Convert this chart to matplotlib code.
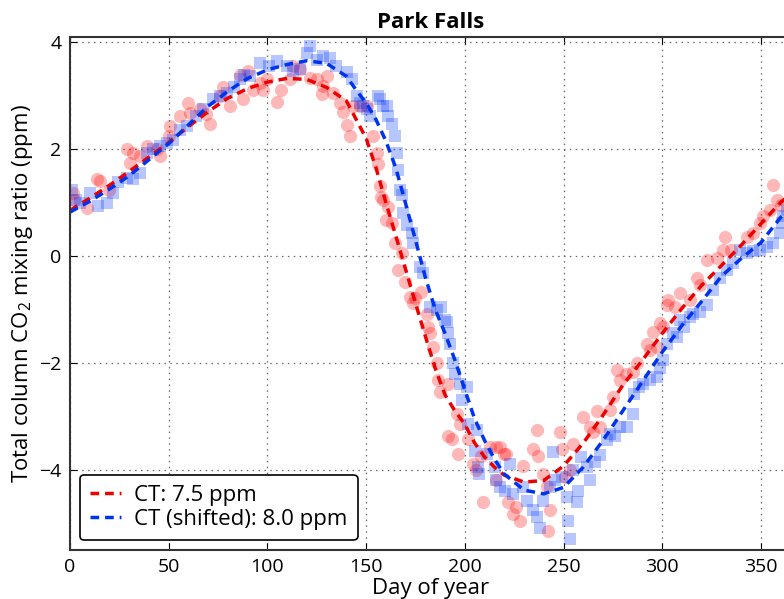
import matplotlib
matplotlib.use("Agg")
import matplotlib.pyplot as plt

plt.rcParams['font.family'] = ['Open Sans', 'DejaVu Sans']
plt.rcParams['mathtext.fontset'] = 'custom'
plt.rcParams['mathtext.rm'] = 'Open Sans'

# observed points (red circles)
red_day = [1.7, 2, 8.4, 13.5, 15, 20, 28.7, 30.4, 32, 35.5, 38.8, 43.9, 45.6, 50, 50.7,
           55.7, 60, 60.8, 65.9, 69, 70.9, 76, 77.7, 81, 86, 87.8, 90.3, 92.9, 96.2, 98,
           99.6, 104.7, 107, 111.5, 113, 116.5, 121.6, 125, 127.5, 128.3, 130, 133.4,
           136.8, 138.5, 140.2, 141.8, 143.5, 146.9, 150.5, 153.7, 155.4, 156.2, 157,
           157.5, 158.7, 160.3, 161.2, 163, 164.6, 166.3, 168, 169.7, 172.2, 174, 174.7,
           178, 180.7, 181.5, 182.4, 184, 185.8, 186.6, 187.4, 191.6, 191.6, 193.3, 195.9,
           196.7, 197.6, 201.8, 204.3, 205.9, 208, 209, 212.8, 216, 216, 217.8, 220, 221,
           222, 224.6, 226, 228, 229.6, 234.7, 236.4, 237, 239.8, 241.5, 242.3, 243.2,
           248.2, 249, 250.8, 253.3, 255, 260, 263.4, 265, 266.8, 268.5, 273.6, 275.2,
           276.9, 278.6, 281.9, 285.4, 287, 292.1, 293.8, 295.5, 297.2, 298.9, 300.5,
           302.2, 303, 306.5, 309, 314, 317.5, 319, 322.5, 327.6, 331, 331.8, 335, 342.8,
           346, 349.5, 351, 354.6, 356.3, 358, 360]
red_val = [1.18, 1.05, 0.89, 1.43, 1.4, 1.24, 1.99, 1.74, 1.93, 1.86, 2.05, 1.99, 1.86, 2.25, 2.42,
           2.61, 2.86, 2.67, 2.74, 2.65, 2.46, 2.99, 3.15, 2.8, 3.39, 2.93, 3.46, 3.11, 3.24, 3.11,
           3.3, 2.88, 3.11, 3.3, 3.55, 3.49, 3.33, 3.3, 3.02, 3.18, 3.36, 3.05,
           2.86, 2.7, 2.44, 2.25, 2.8, 2.8, 2.8, 2.24, 1.93, 1.71, 1.3,
           1.11, 1.05, 0.67, 0.92, 0.61, 0.25, -0.26, 0.05, -0.48, -0.76, -0.89, -0.79,
           -0.67, -1.08, -1.33, -1.45, -1.7, -2.01, -2.33, -2.54, -2.39, -3.36, -3.42, -2.95,
           -3.7, -3.14, -3.42, -3.89, -4.0, -3.75, -4.6, -3.58, -4.2, -3.58, -3.58, -3.7, -3.7,
           -4.61, -4.83, -4.7, -4.95, -3.92, -3.61, -3.26, -3.74, -4.08, -4.3, -5.14, -4.76,
           -3.29, -3.61, -4.14, -4.01, -3.51, -3.01, -3.2, -3.3, -2.9, -3.2, -2.89, -2.64,
           -2.14, -2.33, -2.2, -2.17, -2.0, -1.64, -1.76, -1.42, -1.7, -1.26, -1.33,
           -0.92, -0.83, -0.95, -0.7, -0.83, -0.42, -0.55, -0.08, -0.03, 0.11, 0.36, 0.11, 0.36,
           0.42, 0.61, 0.74, 0.86, 1.33, 1.05, 0.96]

# shifted points (blue squares)
blue_day = [0.8, 3, 5, 10, 14.4, 18.6, 22, 24.5, 28.7, 32, 35.5, 38.8, 42, 45.6, 49, 52.3,
            55.7, 59.1, 64, 67.6, 72.6, 76, 79.4, 83, 86, 88, 91, 96.2, 101, 104.7, 109.8,
            113, 116.5, 120, 121.6, 125, 128.3, 131.7, 135, 140.2, 143, 145.2, 147, 148.6,
            150.3, 152, 156.2, 157, 158.7, 160.4, 161.2, 162.9, 164.6, 165.5, 166.3, 167.2,
            168, 168.9, 170.5, 173, 173.9, 177.3, 179, 182.4, 185.8, 188, 190, 190.8, 191.6,
            192.5, 194.2, 195, 197.6, 198.4, 201, 201.5, 205, 206, 206.5, 207, 211, 215.3,
            215.8, 217.8, 220.4, 222.9, 224.6, 229.6, 231.3, 234.7, 236.4, 238.1, 239.8,
            243.2, 244.8, 245.8, 249, 251.6, 252.4, 253.3, 255, 256.7, 257.5, 259, 261.7,
            263.4, 266, 268.5, 271.9, 273.6, 276, 278.6, 282, 285.4, 285.9, 288, 290.4,
            293.8, 297.2, 298.9, 300.5, 302.2, 305.6, 307.6, 309, 311, 314, 315.8, 319,
            322.5, 325.9, 329.3, 332.6, 336, 339.4, 342.8, 346, 349.5, 352.9, 356.3, 359.7,
            360.5, 361.4, 363]
blue_val = [1.24, 1.05, 0.99, 1.18, 0.93, 0.99, 1.18, 1.39, 1.46, 1.43, 1.55, 1.93, 1.99, 2.05, 2.11, 2.17,
            2.36, 2.42, 2.61, 2.74, 2.93, 2.99, 3.05, 3.15, 3.3, 3.39, 3.36, 3.61, 3.55, 3.65, 3.55,
            3.45, 3.49, 3.8, 3.92, 3.67, 3.74, 3.7, 3.55, 3.43, 3.3, 2.99, 2.86, 2.8,
            2.74, 2.61, 2.99, 2.93, 2.8, 2.8, 2.61, 2.46, 2.24, 1.93, 1.61, 1.24,
            1.14, 0.8, 0.58, 0.42, 0.24, -0.2, -0.32, -0.95, -1.01, -0.95, -1.2, -1.23, -1.45,
            -1.64, -2.01, -2.2, -2.39, -2.7, -2.45, -3.14, -3.64, -3.26, -3.95, -4.08, -3.7, -3.95,
            -4.2, -4.33, -4.39, -3.89, -4.45, -4.33, -4.58, -4.76, -4.89, -5.08, -4.58,
            -4.33, -3.67, -4.2, -4.14, -4.51, -4.95, -5.3, -4.01, -4.61, -4.39, -3.76, -3.95,
            -4.2, -3.86, -3.73, -3.45, -3.33, -3.36, -3.2, -3.2, -2.95, -2.58, -2.45, -2.39,
            -2.33, -2.26, -2.1, -1.95, -1.64, -1.45, -1.52, -1.2, -1.33, -1.14, -1.08, -1.05,
            -0.92, -0.64, -0.42, -0.26, -0.14, 0.11, 0.05, 0.1, 0.11, 0.17, 0.24, 0.42,
            0.61, 0.74, 0.85]

# model curves
fit_day = [0, 10, 20, 30, 40, 50, 60, 70, 80, 90, 100, 110, 120, 130, 140, 145, 150, 155,
           160, 165, 170, 175, 180, 185, 190, 195, 200, 205, 210, 215, 220, 230, 240, 250,
           260, 270, 280, 290, 300, 310, 320, 330, 340, 350, 360, 365]
ct_fit = [0.85, 1.08, 1.32, 1.58, 1.85, 2.12, 2.42, 2.7, 2.95, 3.13, 3.25, 3.32, 3.3, 3.15, 2.9, 2.55, 2.2, 1.65,
          1.0, 0.38, -0.25, -0.88, -1.5, -2.1, -2.6, -2.9, -3.15, -3.5, -3.76, -3.95, -4.1, -4.23, -4.2, -3.93,
          -3.5, -2.98, -2.42, -1.95, -1.45, -0.98, -0.55, -0.18, 0.2, 0.6, 1.0, 1.15]
ct_shift_fit = [0.82, 1.02, 1.25, 1.5, 1.8, 2.1, 2.45, 2.8, 3.08, 3.32, 3.48, 3.58, 3.65, 3.6, 3.36, 3.1, 2.86, 2.55,
                2.15, 1.65, 0.98, 0.3, -0.4, -1.0, -1.45, -1.95, -2.5, -3.05, -3.45, -3.8, -4.08, -4.38, -4.45, -4.33,
                -3.95, -3.45, -2.9, -2.35, -1.8, -1.3, -0.85, -0.38, -0.05, 0.25, 0.72, 0.9]

fig = plt.figure(figsize=(7.84, 5.99), dpi=100)
ax = fig.add_axes([0.0893, 0.0818, 0.919, 0.857])

ax.plot(red_day, red_val, 'o', color='red', alpha=0.28, markersize=9.5, markeredgewidth=0)
ax.plot(blue_day, blue_val, 's', color='#0033ff', alpha=0.28, markersize=8.5, markeredgewidth=0)
ax.plot(fit_day, ct_fit, '--', color='#ee0000', lw=2.5, dashes=(2.5, 1.7), label='CT: 7.5 ppm')
ax.plot(fit_day, ct_shift_fit, '--', color='#0033ee', lw=2.5, dashes=(2.5, 1.7), label='CT (shifted): 8.0 ppm')

ax.set_xlim(0, 365)
ax.set_ylim(-5.5, 4.1)
ax.set_xticks(range(0, 351, 50))
ax.set_yticks([-4, -2, 0, 2, 4])
ax.set_yticklabels(['\u22124', '\u22122', '0', '2', '4'])
ax.tick_params(direction='in', top=True, right=True, labelsize=14, length=5, pad=6)
ax.grid(True, color='0.4', linestyle=(0, (1.2, 3.5)), linewidth=0.9)
for s in ax.spines.values():
    s.set_color('0.2')
    s.set_linewidth(1.5)

ax.set_title('Park Falls', fontsize=16, fontweight='bold', pad=6)
ax.set_xlabel('Day of year', fontsize=16, labelpad=1)
ax.set_ylabel('Total column CO$_2$ mixing ratio (ppm)', fontsize=16, labelpad=3)

leg = ax.legend(loc='lower left', fontsize=16, fancybox=True, framealpha=1,
                handlelength=1.4, handletextpad=0.6, borderaxespad=0.45,
                borderpad=0.45, labelspacing=0.15)
leg.get_frame().set_edgecolor('black')
leg.get_frame().set_linewidth(1.2)

fig.savefig('out.png', dpi=100)
